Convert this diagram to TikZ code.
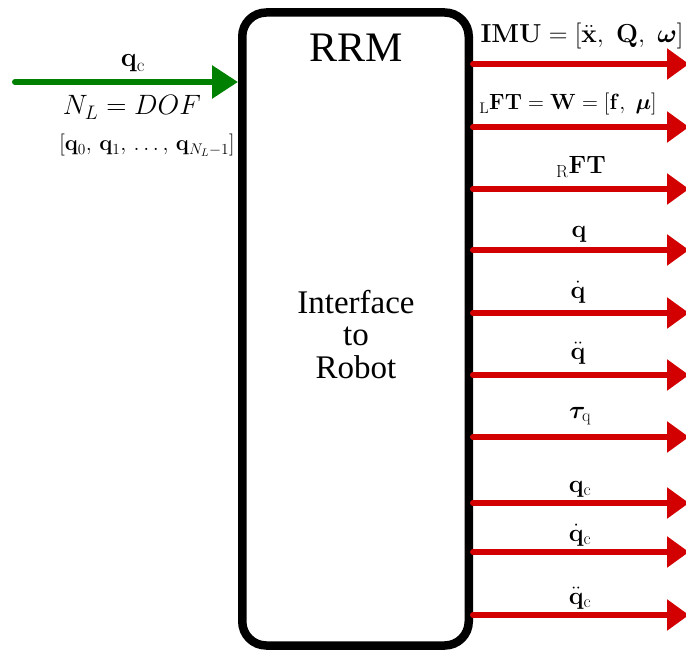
\RequirePackage{fix-cm}
\documentclass[tikz,border=0pt]{standalone}
\usepackage{amsmath,bm}
\usepackage[no-math]{fontspec}
\newfontfamily\tnr{Liberation Serif}
\usetikzlibrary{arrows.meta}
\definecolor{outred}{RGB}{210,0,0}
\definecolor{ingreen}{RGB}{0,128,0}
\tikzset{
  outarrow/.style={draw=outred, line width=6pt, line cap=round,
    -{Triangle[length=22pt,width=30pt]}},
  inarrow/.style={draw=ingreen, line width=6pt, line cap=round,
    -{Triangle[length=26pt,width=32pt]}},
  biglbl/.style={anchor=base, inner sep=0pt, font=\fontsize{25}{30}\selectfont},
  smalllbl/.style={anchor=base, inner sep=0pt, font=\fontsize{22}{26}\selectfont},
  boxtxt/.style={anchor=base, inner sep=0pt, font=\tnr\fontsize{33}{38}\selectfont},
}
\begin{document}
\begin{tikzpicture}[x=1pt,y=-1pt]
\useasboundingbox (0,0) rectangle (686,650);
% box
\node[draw, line width=8.5pt, rounded corners=24pt, minimum width=226.5pt,
  minimum height=633pt, inner sep=0pt, fill=white] (box) at (355.5,329) {};
% outputs
\foreach \n/\y in {o1/64,o2/127,o3/189,o4/250,o5/313,o6/375,o7/437,o8/503,o9/552,o10/615}{
  \coordinate (\n) at (689,\y);
  \draw[outarrow] (box.east |- \n) -- (\n);
}
% input
\coordinate (in) at (15,82);
\draw[inarrow] (in) -- (box.west |- in);
% box texts
\node[boxtxt, font=\tnr\fontsize{42}{46}\selectfont] (rrm) at (356,62) {RRM};
\node[boxtxt] (t1) at (356,313) {Interface};
\node[boxtxt] (t2) at (356,345) {to};
\node[boxtxt] (t3) at (356,378) {Robot};
% input labels
\node[biglbl, font=\fontsize{27}{30}\selectfont] (lqc) at (133,67) {$\mathbf{q}_{\mathrm{c}}$};
\node[biglbl, font=\fontsize{28}{32}\selectfont] (lnl) at (132,115) {$N_L = DOF$};
\node[smalllbl] (lqs) at (147,151) {$[\mathbf{q}_0,\, \mathbf{q}_1,\, \ldots,\, \mathbf{q}_{N_L-1}]$};
% output labels
\node[biglbl, font=\fontsize{26}{30}\selectfont] (l1) at (582,43) {$\mathbf{IMU} = [\ddot{\mathbf{x}},\ \mathbf{Q},\ \bm{\omega}]$};
\node[smalllbl] (l2) at (568,110) {${}_{\mathrm{L}}\mathbf{FT} = \mathbf{W} = [\mathbf{f},\ \bm{\mu}]$};
\node[biglbl] (l3) at (581,174) {${}_{\mathrm{R}}\mathbf{FT}$};
\node[biglbl] (l4) at (579,237) {$\mathbf{q}$};
\node[biglbl] (l5) at (578,298) {$\dot{\mathbf{q}}$};
\node[biglbl] (l6) at (578,359) {$\ddot{\mathbf{q}}$};
\node[biglbl] (l7) at (580,418) {$\bm{\tau}_{\mathrm{q}}$};
\node[biglbl] (l8) at (580,492) {$\mathbf{q}_{\mathrm{c}}$};
\node[biglbl] (l9) at (580,541) {$\dot{\mathbf{q}}_{\mathrm{c}}$};
\node[biglbl] (l10) at (580,604) {$\ddot{\mathbf{q}}_{\mathrm{c}}$};
\end{tikzpicture}
\end{document}
